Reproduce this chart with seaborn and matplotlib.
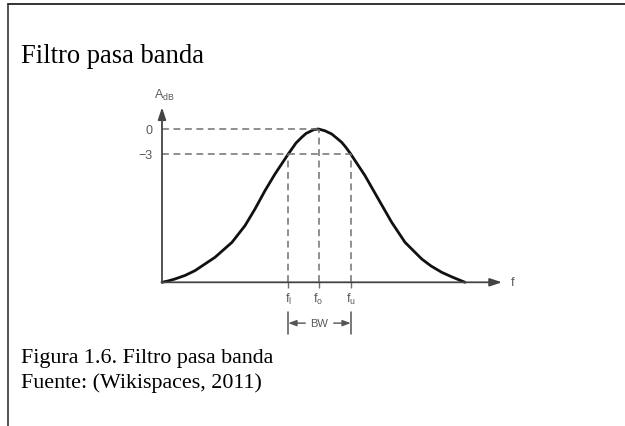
import matplotlib
matplotlib.use("Agg")
import matplotlib.pyplot as plt
from matplotlib.lines import Line2D
import seaborn as sns
import pandas as pd

# Band-pass response: frequency (arbitrary units) vs. gain in dB
freq = [0.0, 0.6, 1.3, 2.3, 3.3, 5.3, 7.0, 8.3, 9.3, 10.3, 11.3, 12.63, 13.4, 13.97,
        14.4, 14.97, 15.2, 15.65, 16.3, 16.97, 17.4, 17.97, 18.4, 18.87, 20.3, 21.63,
        22.97, 24.3, 25.97, 26.9, 27.97, 29.0, 30.3]
gain_db = [-18.4, -18.24, -18.0, -17.58, -17.0, -15.4, -13.6, -11.6, -9.6, -7.4, -5.4,
           -3.0, -1.68, -1.0, -0.54, -0.2, -0.07, 0.0, -0.22, -0.6, -1.02, -1.6, -2.22,
           -3.0, -5.6, -8.4, -11.2, -13.6, -15.6, -16.44, -17.2, -17.76, -18.4]

# Marked frequencies and levels
f_low, f_center, f_up = 12.63, 15.65, 18.87
freq_marks = [f_low, f_center, f_up]
freq_labels = [r"$\mathregular{f_l}$", r"$\mathregular{f_o}$", r"$\mathregular{f_u}$"]
level_marks = [0, -3]
level_labels = ["0", "\u22123"]

title = "Filtro pasa banda"
caption = ["Figura 1.6. Filtro pasa banda", "Fuente: (Wikispaces, 2011)"]

sns.set_theme(style="white")
plt.rcParams["font.family"] = ["Liberation Sans", "DejaVu Sans"]
plt.rcParams["mathtext.default"] = "regular"

W, H = 625, 427
fig = plt.figure(figsize=(W / 100, H / 100), dpi=100)
fig.patch.set_facecolor("white")

x0, x1 = 0.0, 34.0
y0, y1 = -18.4, 3.0
ax = fig.add_axes([162 / W, (H - 283.3) / H, 340 / W, (283.3 - 105) / H])
ax.set_xlim(x0, x1)
ax.set_ylim(y0, y1)
for s in ax.spines.values():
    s.set_visible(False)
ax.patch.set_alpha(0)

df = pd.DataFrame({"f": freq, "A": gain_db})
sns.lineplot(data=df, x="f", y="A", ax=ax, color="#111111", lw=2.0,
             sort=False, solid_capstyle="round", solid_joinstyle="round",
             clip_on=False)
ax.set_xlabel("")
ax.set_ylabel("")

gray = "#5a5a5a"
dash = dict(color="#707070", lw=1.1, ls=(0, (4.5, 3)))

# Reference levels and frequency markers
ax.plot([0, f_center], [0, 0], **dash)
ax.plot([0, f_up], [-3, -3], **dash)
ax.plot([f_low, f_low], [y0, -3], **dash)
ax.plot([f_center, f_center], [y0, 0], **dash)
ax.plot([f_up, f_up], [y0, -3], **dash)

# Axes with arrowheads
ax.annotate("", xy=(x1, y0), xytext=(0, y0),
            arrowprops=dict(arrowstyle="-|>,head_length=0.6,head_width=0.2",
                            color="#444444", lw=1.3, shrinkA=0, shrinkB=0),
            annotation_clip=False)
ax.annotate("", xy=(0, 2.6), xytext=(0, y0),
            arrowprops=dict(arrowstyle="-|>,head_length=0.6,head_width=0.2",
                            color="#444444", lw=1.3, shrinkA=0, shrinkB=0),
            annotation_clip=False)

ax.set_yticks(level_marks)
ax.set_yticklabels(level_labels)
ax.set_xticks(freq_marks)
ax.set_xticklabels(freq_labels)
ax.tick_params(axis="y", length=0, pad=7, labelsize=9, labelcolor=gray)
ax.tick_params(axis="x", length=4, width=1, color="#707070", direction="out",
               pad=2, labelsize=9, labelcolor=gray, bottom=True)

ax.text(x1 + 0.9, y0, "f", ha="left", va="center", fontsize=9, color=gray,
        clip_on=False)
ax.text(-0.8, 4.2, r"$\mathregular{A_{dB}}$", ha="left", va="center",
        fontsize=9, color=gray, clip_on=False)

# Bandwidth bracket
yb = -23.3
for xf in (f_low, f_up):
    ax.plot([xf, xf], [-22.0, -24.6], color="#555555", lw=1.1, clip_on=False)
ax.annotate("", xy=(f_low, yb), xytext=(f_low + 1.7, yb),
            arrowprops=dict(arrowstyle="-|>,head_length=0.4,head_width=0.15",
                            color="#555555", lw=1.0, shrinkA=0, shrinkB=0),
            annotation_clip=False)
ax.annotate("", xy=(f_up, yb), xytext=(f_up - 1.7, yb),
            arrowprops=dict(arrowstyle="-|>,head_length=0.4,head_width=0.15",
                            color="#555555", lw=1.0, shrinkA=0, shrinkB=0),
            annotation_clip=False)
ax.text((f_low + f_up) / 2, yb, "BW", ha="center", va="center", fontsize=8,
        color=gray, clip_on=False)

# Page text
serif = ["Liberation Serif", "DejaVu Serif"]
fig.text(21 / W, 1 - 63 / H, title, family=serif, fontsize=19.2,
         color="black", ha="left", va="baseline")
fig.text(21 / W, 1 - 362.7 / H, caption[0], family=serif, fontsize=15.8,
         color="black", ha="left", va="baseline")
fig.text(21 / W, 1 - 388 / H, caption[1], family=serif, fontsize=15.8,
         color="black", ha="left", va="baseline")

# Frame lines along top and left edges
fig.add_artist(Line2D([8 / W, 1], [1 - 5 / H, 1 - 5 / H], color="#333333", lw=1.4,
                      transform=fig.transFigure))
fig.add_artist(Line2D([8 / W, 8 / W], [1 - 5 / H, 0], color="#333333", lw=1.2,
                      transform=fig.transFigure))

fig.savefig("out.png", dpi=100, facecolor="white")
